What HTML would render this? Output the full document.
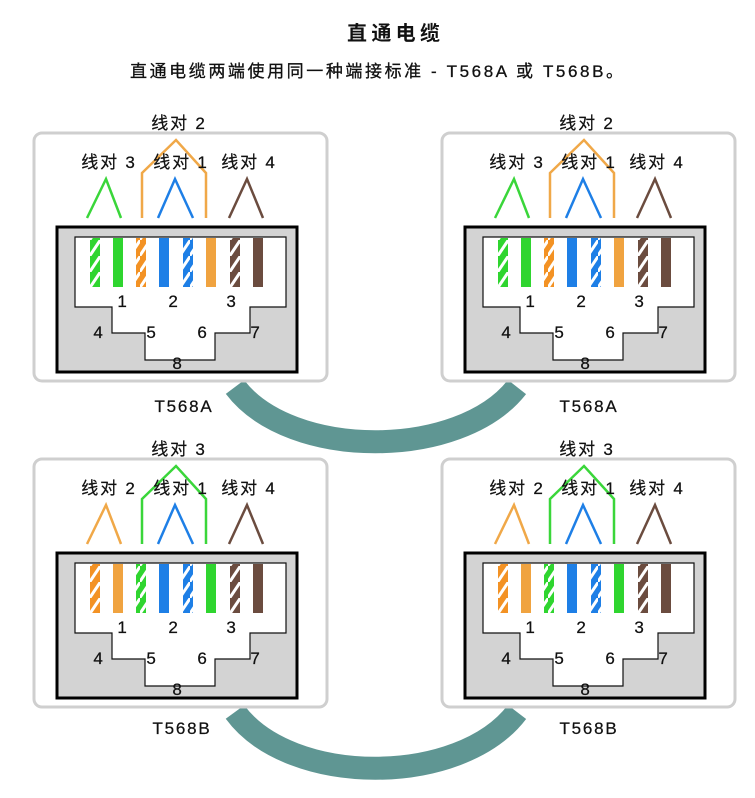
<!DOCTYPE html>
<html><head><meta charset="utf-8"><style>
html,body{margin:0;padding:0;background:#fff;}
svg{display:block;font-family:"Liberation Sans","Noto Sans CJK SC",sans-serif;}
.l{font-size:17px;letter-spacing:1.8px;fill:#111;stroke:#111;stroke-width:0.25;}
</style></head><body>
<svg width="755" height="798" viewBox="0 0 755 798" xmlns="http://www.w3.org/2000/svg">
<defs>
<pattern id="st" patternUnits="userSpaceOnUse" width="10" height="16">
<line x1="-1" y1="17" x2="11" y2="-1" stroke="#fff" stroke-width="3"/>
</pattern>
<g id="frame">
<rect x="34" y="133" width="293" height="248" rx="8" fill="#fff" stroke="#cfcfcf" stroke-width="3"/>
<rect x="57" y="227" width="240" height="145" fill="#d3d3d3" stroke="#000" stroke-width="3"/>
<path d="M75,237 H286 V307 H250 V333 H215 V360 H145 V333 H112 V307 H75 Z" fill="#fff" stroke="#111" stroke-width="1.2"/>
</g>
<g id="wiresA">
<rect x="90" y="238" width="10" height="49" fill="#2fd52f"/><rect x="90" y="238" width="10" height="49" fill="url(#st)"/>
<rect x="113" y="238" width="10" height="49" fill="#2fd52f"/>
<rect x="136" y="238" width="10" height="49" fill="#f39224"/><rect x="136" y="238" width="10" height="49" fill="url(#st)"/>
<rect x="159" y="238" width="10" height="49" fill="#1e7fe6"/>
<rect x="183" y="238" width="10" height="49" fill="#1e7fe6"/><rect x="183" y="238" width="10" height="49" fill="url(#st)"/>
<rect x="206" y="238" width="10" height="49" fill="#f0a340"/>
<rect x="230" y="238" width="10" height="49" fill="#6b4c3f"/><rect x="230" y="238" width="10" height="49" fill="url(#st)"/>
<rect x="253" y="238" width="10" height="49" fill="#6b4c3f"/>
<polyline points="87,218 106,179 121,218" fill="none" stroke="#3ad63a" stroke-width="2.5"/>
<polyline points="158,218 175,179 193,218" fill="none" stroke="#1e7fe6" stroke-width="2.5"/>
<polyline points="229,218 247,179 263,218" fill="none" stroke="#6b4c3f" stroke-width="2.5"/>
<polyline points="142,218 142,173 176,140 206,173 206,218" fill="none" stroke="#f0a848" stroke-width="2.5"/>
</g>
<g id="wiresB">
<rect x="90" y="238" width="10" height="49" fill="#f39224"/><rect x="90" y="238" width="10" height="49" fill="url(#st)"/>
<rect x="113" y="238" width="10" height="49" fill="#f0a340"/>
<rect x="136" y="238" width="10" height="49" fill="#2fd52f"/><rect x="136" y="238" width="10" height="49" fill="url(#st)"/>
<rect x="159" y="238" width="10" height="49" fill="#1e7fe6"/>
<rect x="183" y="238" width="10" height="49" fill="#1e7fe6"/><rect x="183" y="238" width="10" height="49" fill="url(#st)"/>
<rect x="206" y="238" width="10" height="49" fill="#2fd52f"/>
<rect x="230" y="238" width="10" height="49" fill="#6b4c3f"/><rect x="230" y="238" width="10" height="49" fill="url(#st)"/>
<rect x="253" y="238" width="10" height="49" fill="#6b4c3f"/>
<polyline points="87,218 106,179 121,218" fill="none" stroke="#f0a848" stroke-width="2.5"/>
<polyline points="158,218 175,179 193,218" fill="none" stroke="#1e7fe6" stroke-width="2.5"/>
<polyline points="229,218 247,179 263,218" fill="none" stroke="#6b4c3f" stroke-width="2.5"/>
<polyline points="142,218 142,173 176,140 206,173 206,218" fill="none" stroke="#3ad63a" stroke-width="2.5"/>
</g>
</defs>

<text x="347" y="40" textLength="93" lengthAdjust="spacing" font-size="20" font-weight="bold" fill="#111">直通电缆</text>
<text x="130" y="77" textLength="493" lengthAdjust="spacing" font-size="17" fill="#111" stroke="#111" stroke-width="0.3">直通电缆两端使用同一种端接标准 - T568A 或 T568B。</text>

<path d="M235,387 C290,460 460,460 517,387" fill="none" stroke="#5f9693" stroke-width="23"/>
<path d="M235,712 C290,787 460,787 517,712" fill="none" stroke="#5f9693" stroke-width="23"/>

<g>
<use href="#frame"/><use href="#wiresA"/>
<g class="l" text-anchor="middle">
<text x="179" y="129">线对 2</text><text x="109" y="168">线对 3</text><text x="181" y="168">线对 1</text><text x="249" y="168">线对 4</text>
<text x="123" y="307">1</text><text x="174" y="307">2</text><text x="232" y="307">3</text>
<text x="99" y="338">4</text><text x="152" y="338">5</text><text x="203" y="338">6</text><text x="256" y="338">7</text><text x="178" y="369">8</text>
<text x="184" y="412">T568A</text>
</g></g>
<g transform="translate(408,0)">
<use href="#frame"/><use href="#wiresA"/>
<g class="l" text-anchor="middle">
<text x="179" y="129">线对 2</text><text x="109" y="168">线对 3</text><text x="181" y="168">线对 1</text><text x="249" y="168">线对 4</text>
<text x="123" y="307">1</text><text x="174" y="307">2</text><text x="232" y="307">3</text>
<text x="99" y="338">4</text><text x="152" y="338">5</text><text x="203" y="338">6</text><text x="256" y="338">7</text><text x="178" y="369">8</text>
<text x="181" y="412">T568A</text>
</g></g>
<g transform="translate(0,326)">
<use href="#frame"/><use href="#wiresB"/>
<g class="l" text-anchor="middle">
<text x="179" y="129">线对 3</text><text x="109" y="168">线对 2</text><text x="181" y="168">线对 1</text><text x="249" y="168">线对 4</text>
<text x="123" y="307">1</text><text x="174" y="307">2</text><text x="232" y="307">3</text>
<text x="99" y="338">4</text><text x="152" y="338">5</text><text x="203" y="338">6</text><text x="256" y="338">7</text><text x="178" y="369">8</text>
<text x="182" y="408">T568B</text>
</g></g>
<g transform="translate(408,326)">
<use href="#frame"/><use href="#wiresB"/>
<g class="l" text-anchor="middle">
<text x="179" y="129">线对 3</text><text x="109" y="168">线对 2</text><text x="181" y="168">线对 1</text><text x="249" y="168">线对 4</text>
<text x="123" y="307">1</text><text x="174" y="307">2</text><text x="232" y="307">3</text>
<text x="99" y="338">4</text><text x="152" y="338">5</text><text x="203" y="338">6</text><text x="256" y="338">7</text><text x="178" y="369">8</text>
<text x="181" y="408">T568B</text>
</g></g>
</svg>
</body></html>
